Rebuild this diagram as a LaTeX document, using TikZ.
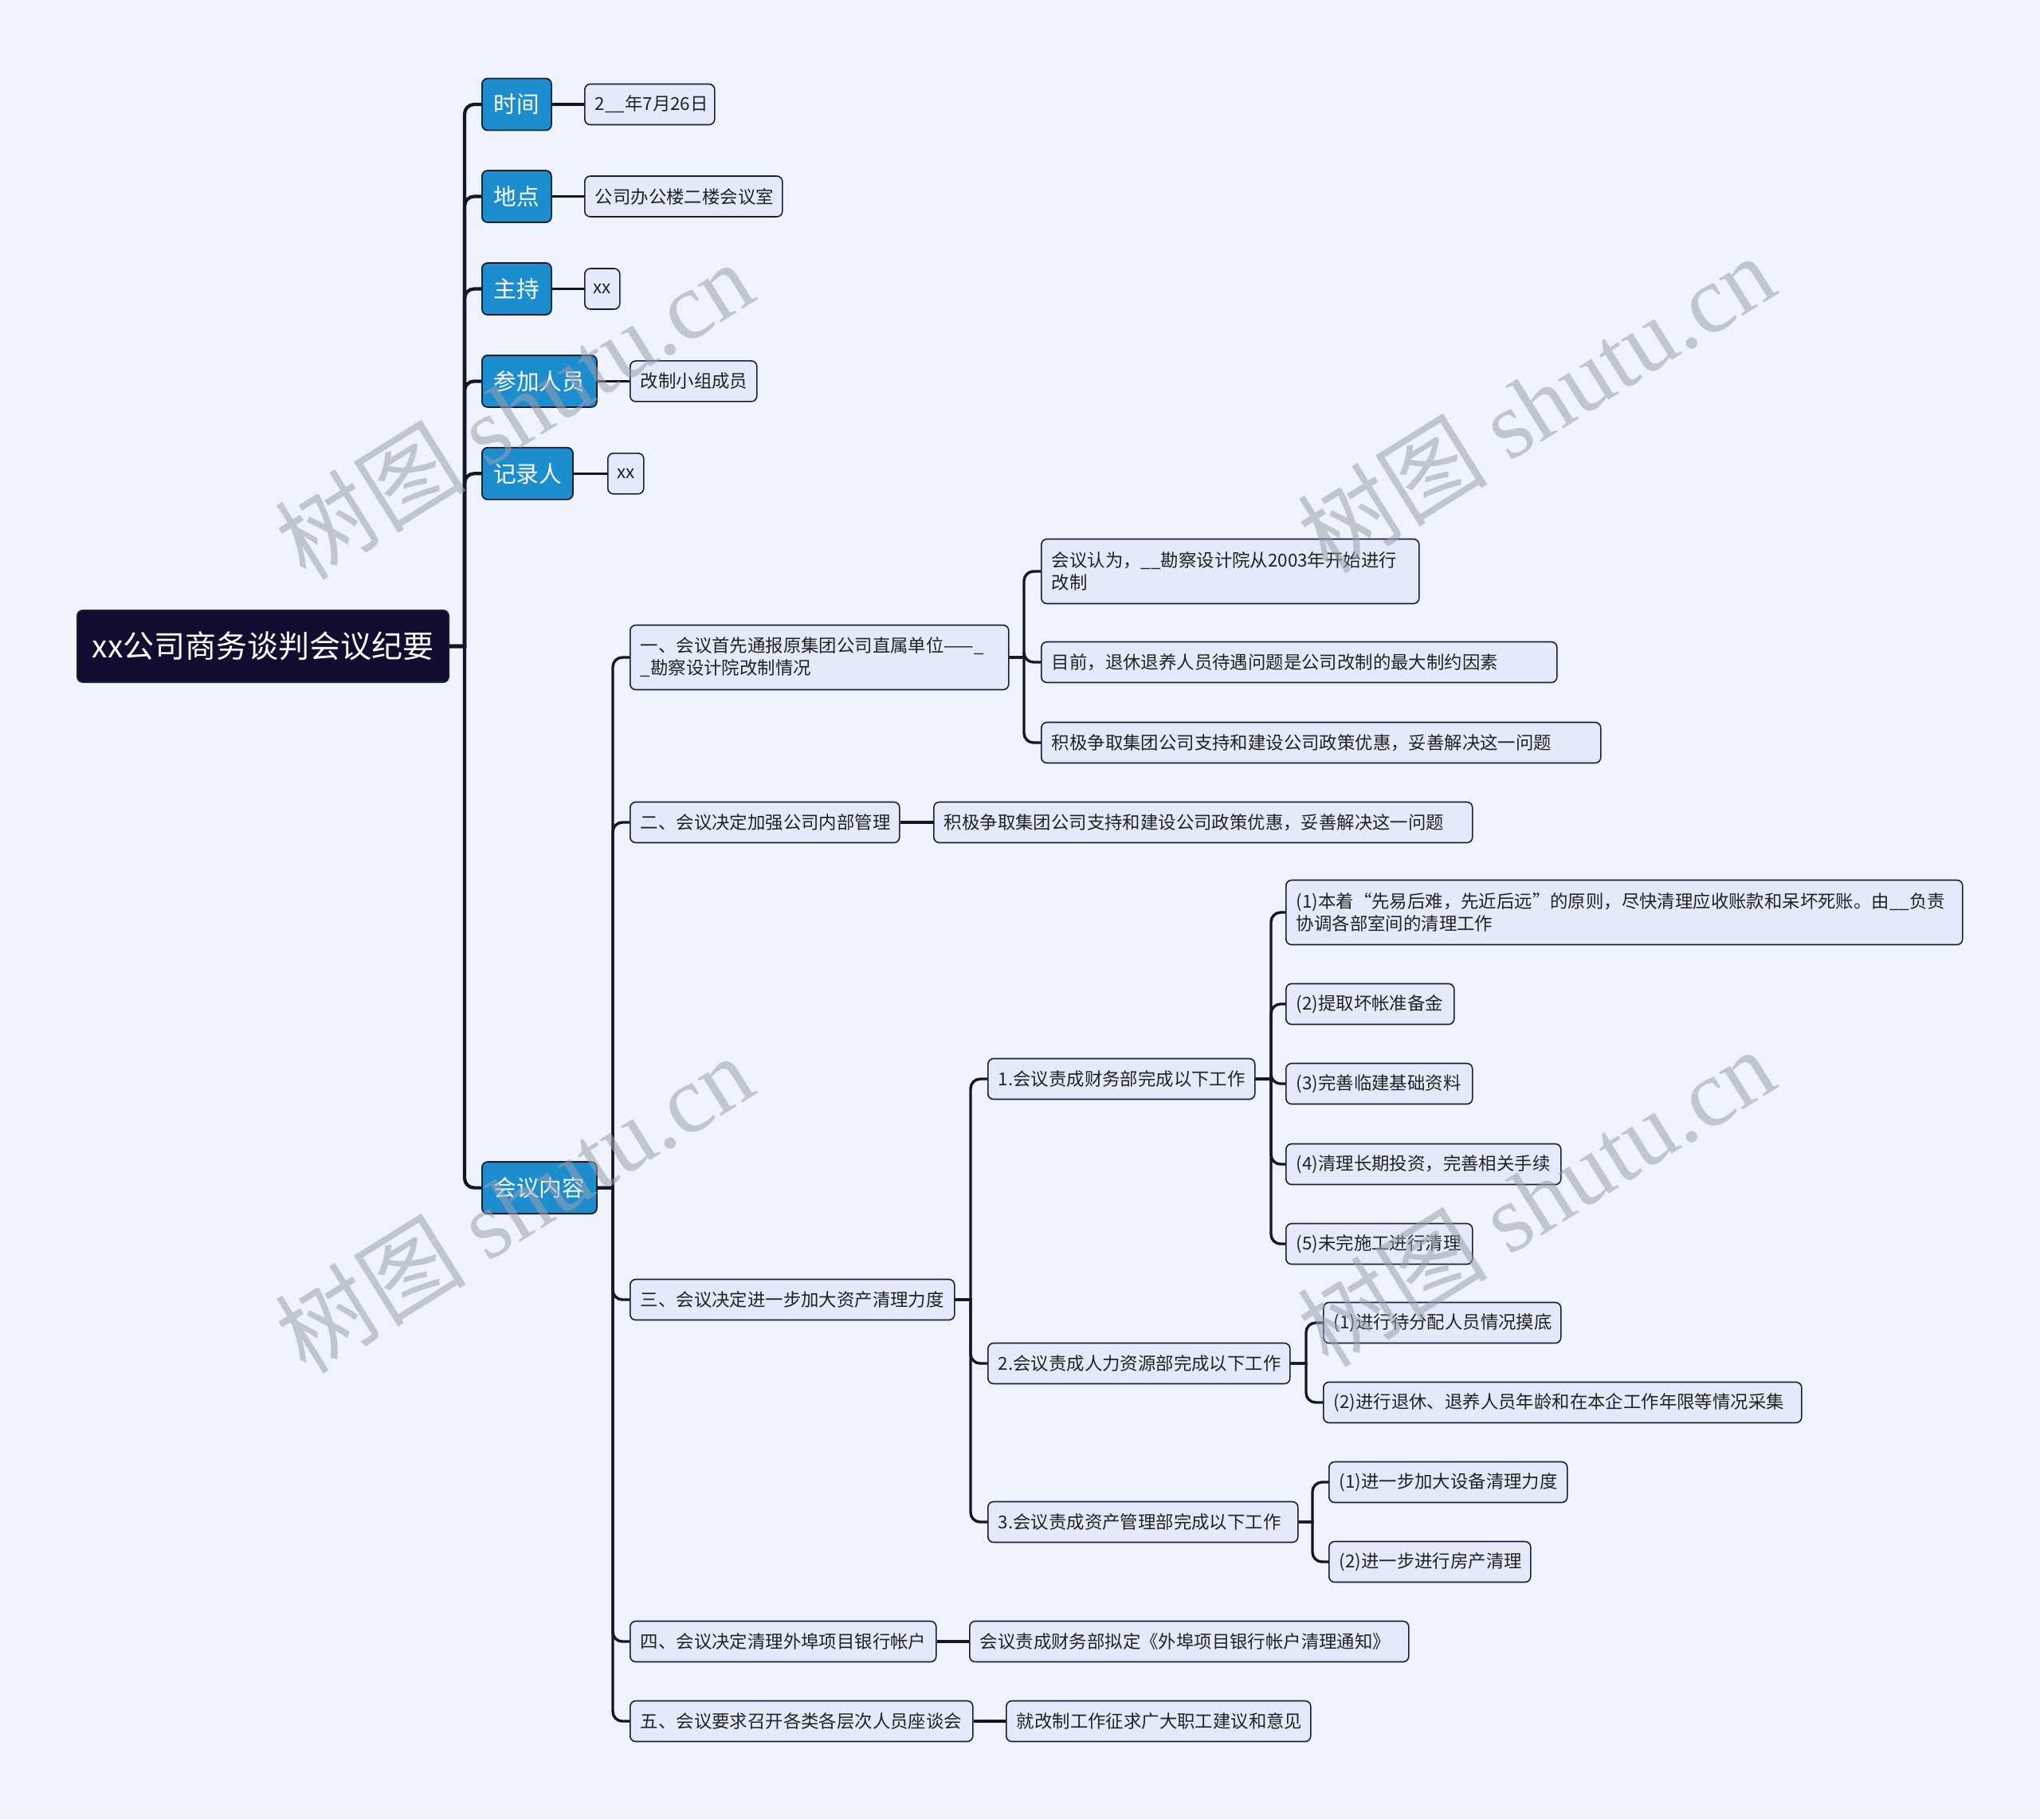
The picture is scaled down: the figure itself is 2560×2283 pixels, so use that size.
\documentclass[tikz,border=0pt]{standalone}
\usepackage{fontspec}
\setmainfont{Noto Sans CJK SC}
\newfontfamily\wmserif{Liberation Serif}
\usetikzlibrary{calc}
\definecolor{bg}{HTML}{EEF3FD}
\definecolor{rootfill}{HTML}{110C30}
\definecolor{bluefill}{HTML}{1C8DCF}
\definecolor{leaffill}{HTML}{E3EBFA}
\definecolor{nodeline}{HTML}{1A1F36}
\definecolor{conncol}{HTML}{14142B}
\definecolor{txt}{HTML}{222222}
\definecolor{wmcol}{HTML}{9AA0AD}
\begin{document}
\begin{tikzpicture}[x=0.5pt,y=-0.5pt,
  base/.style={draw=nodeline, rounded corners=3.5pt, inner xsep=0pt, inner ysep=0pt, anchor=west},
  rootbox/.style={base, fill=rootfill, text=white, line width=1pt, font=\fontsize{19.5}{23}\selectfont, minimum height=45pt},
  lone/.style={base, fill=bluefill, text=white, line width=0.9pt, font=\fontsize{14.3}{17}\selectfont, minimum height=32.5pt},
  leafc/.style={base, fill=leaffill, text=txt, line width=0.8pt, font=\fontsize{11.2}{14}\selectfont, minimum height=25.5pt},
  leaf/.style={leafc, align=left, inner xsep=6.5pt, text width=#1},
  leaftwo/.style={leaf=#1, minimum height=40.5pt},
  conn/.style={draw=conncol, line width=1.7pt},
  trunk/.style={draw=conncol, line width=2.1pt},
  wm/.style={text=wmcol, opacity=0.55, rotate=32, font=\fontsize{60}{60}\selectfont}
]
\fill[bg] (0,0) rectangle (2560,2283);
\useasboundingbox (0,0) rectangle (2560,2283);

% branch coordinates
\coordinate (tr) at (583,0);
\coordinate (b0) at (769,0);
\coordinate (b1) at (1285,0);
\coordinate (b3) at (1218,0);
\coordinate (b31) at (1595,0);
\coordinate (b32) at (1639,0);
\coordinate (b33) at (1647,0);

% root
\node[rootbox, minimum width=233pt] (root) at (96,811) {xx公司商务谈判会议纪要};

% level 1
\node[lone, minimum width=43.5pt] (t1) at (604,131) {时间};
\node[lone, minimum width=43.5pt] (t2) at (604,246.5) {地点};
\node[lone, minimum width=43.5pt] (t3) at (604,362.5) {主持};
\node[lone, minimum width=72pt] (t4) at (604,478.4) {参加人员};
\node[lone, minimum width=57pt] (t5) at (604,594.3) {记录人};
\node[lone, minimum width=72pt] (t6) at (604,1490.6) {会议内容};

% leaves of level 1
\node[leaf=68.5pt] (l1) at (733,131) {2\_\_年7月26日};
\node[leaf=111pt] (l2) at (733,246.5) {公司办公楼二楼会议室};
\node[leafc, minimum width=22pt] (l3) at (733,362.5) {xx};
\node[leaf=66.5pt] (l4) at (790,478.4) {改制小组成员};
\node[leafc, minimum width=22.5pt] (l5) at (762,594.3) {xx};

% level 2 under 会议内容
\node[leaftwo=224.5pt] (s1) at (790,825) {一、会议首先通报原集团公司直属单位——\_\\\_勘察设计院改制情况};
\node[leaf=156pt] (s2) at (790,1032) {二、会议决定加强公司内部管理};
\node[leaf=190.5pt] (s3) at (790,1631) {三、会议决定进一步加大资产清理力度};
\node[leaf=179pt] (s4) at (790,2060) {四、会议决定清理外埠项目银行帐户};
\node[leaf=202pt] (s5) at (790,2160) {五、会议要求召开各类各层次人员座谈会};

% children of 一
\node[leaftwo=224pt] (s1a) at (1306,717) {会议认为，\_\_勘察设计院从2003年开始进行\\改制};
\node[leaf=310.5pt] (s1b) at (1306,831) {目前，退休退养人员待遇问题是公司改制的最大制约因素};
\node[leaf=338pt] (s1c) at (1306,932) {积极争取集团公司支持和建设公司政策优惠，妥善解决这一问题};

% child of 二
\node[leaf=325pt] (s2a) at (1171,1032) {积极争取集团公司支持和建设公司政策优惠，妥善解决这一问题};

% children of 三
\node[leaf=154.5pt] (p1) at (1239,1354) {1.会议责成财务部完成以下工作};
\node[leaf=176.5pt] (p2) at (1239,1711) {2.会议责成人力资源部完成以下工作};
\node[leaf=181.5pt] (p3) at (1239,1910) {3.会议责成资产管理部完成以下工作};

% children of 1.
\node[leaftwo=411.5pt] (q1) at (1613,1145) {(1)本着“先易后难，先近后远”的原则，尽快清理应收账款和呆坏死账。由\_\_负责\\协调各部室间的清理工作};
\node[leaf=92.5pt] (q2) at (1613,1260) {(2)提取坏帐准备金};
\node[leaf=104pt] (q3) at (1613,1360) {(3)完善临建基础资料};
\node[leaf=159.5pt] (q4) at (1613,1461) {(4)清理长期投资，完善相关手续};
\node[leaf=104pt] (q5) at (1613,1561) {(5)未完施工进行清理};

% children of 2.
\node[leaf=136pt] (r1) at (1660,1660) {(1)进行待分配人员情况摸底};
\node[leaf=287pt] (r2) at (1660,1760) {(2)进行退休、退养人员年龄和在本企工作年限等情况采集};

% children of 3.
\node[leaf=136.5pt] (u1) at (1667,1860) {(1)进一步加大设备清理力度};
\node[leaf=113.5pt] (u2) at (1667,1960) {(2)进一步进行房产清理};

% children of 四 and 五
\node[leaf=262.5pt] (s4a) at (1216,2060) {会议责成财务部拟定《外埠项目银行帐户清理通知》};
\node[leaf=178pt] (s5a) at (1262,2160) {就改制工作征求广大职工建议和意见};

% connectors: root trunk
\foreach \c in {t1,t2,t3,t4,t5,t6}
  \draw[trunk] (root.east) -- (root.east -| tr) [rounded corners=6pt] |- (\c.west);

% level1 to leaves
\draw[conn] (t1.east) -- (l1.west);
\draw[conn] (t2.east) -- (l2.west);
\draw[conn] (t3.east) -- (l3.west);
\draw[conn] (t4.east) -- (l4.west);
\draw[conn] (t5.east) -- (l5.west);

% 会议内容 to sections
\foreach \c in {s1,s2,s3,s4,s5}
  \draw[conn] (t6.east) -- (t6.east -| b0) [rounded corners=6pt] |- (\c.west);

% 一 to children
\foreach \c in {s1a,s1b,s1c}
  \draw[conn] (s1.east) -- (s1.east -| b1) [rounded corners=6pt] |- (\c.west);

% 二
\draw[conn] (s2.east) -- (s2a.west);

% 三
\foreach \c in {p1,p2,p3}
  \draw[conn] (s3.east) -- (s3.east -| b3) [rounded corners=6pt] |- (\c.west);

\foreach \c in {q1,q2,q3,q4,q5}
  \draw[conn] (p1.east) -- (p1.east -| b31) [rounded corners=6pt] |- (\c.west);

\foreach \c in {r1,r2}
  \draw[conn] (p2.east) -- (p2.east -| b32) [rounded corners=6pt] |- (\c.west);

\foreach \c in {u1,u2}
  \draw[conn] (p3.east) -- (p3.east -| b33) [rounded corners=6pt] |- (\c.west);

% 四 五
\draw[conn] (s4.east) -- (s4a.west);
\draw[conn] (s5.east) -- (s5a.west);

% watermarks
\node[wm] (wm1) at (645,514) {树图 {\wmserif shutu.cn}};
\node[wm] (wm2) at (1927,506) {树图 {\wmserif shutu.cn}};
\node[wm] (wm3) at (645,1510) {树图 {\wmserif shutu.cn}};
\node[wm] (wm4) at (1927,1502) {树图 {\wmserif shutu.cn}};
\end{tikzpicture}
\end{document}
